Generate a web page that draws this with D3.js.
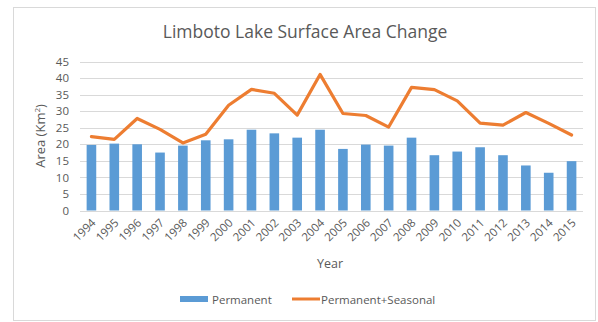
<!DOCTYPE html>
<html><head><meta charset="utf-8">
<script src="https://cdn.jsdelivr.net/npm/d3@7"></script>
<style>body{margin:0;background:#fff}svg{display:block}text{font-family:"Open Sans",sans-serif}</style>
</head><body>
<svg id="c" width="598" height="322"></svg>
<script>
const years = ["1994","1995","1996","1997","1998","1999","2000","2001","2002","2003","2004","2005","2006","2007","2008","2009","2010","2011","2012","2013","2014","2015"];
const permanent = [19.8,20.2,20.0,17.5,19.6,21.2,21.5,24.4,23.3,22.0,24.4,18.6,19.9,19.6,22.0,16.7,17.8,19.1,16.7,13.6,11.4,14.9];
const permanentSeasonal = [22.3,21.5,27.8,24.5,20.4,23.0,31.8,36.6,35.4,28.8,41.1,29.3,28.7,25.2,37.2,36.5,33.1,26.4,25.8,29.6,26.3,22.8];
const yTicks = [0,5,10,15,20,25,30,35,40,45];

const svg = d3.select("#c");
svg.append("rect").attr("x",13.5).attr("y",7.5).attr("width",582).attr("height",313)
  .attr("fill","#fff").attr("stroke","#d9d9d9");

const L=80, R=583, T=61.5, B=210.5;
const x = d3.scaleBand().domain(years).range([L,R]).paddingInner(0.58).paddingOuter(0.29);
const y = d3.scaleLinear().domain([0,45]).range([B,T]);

// gridlines
svg.append("g").selectAll("line").data(yTicks).join("line")
  .attr("x1",L).attr("x2",R).attr("y1",d=>Math.round(y(d))+0.5).attr("y2",d=>Math.round(y(d))+0.5)
  .attr("stroke","#d9d9d9").attr("stroke-width",1);

// y axis labels
const ya = svg.append("g").attr("transform",`translate(${L-11},0)`)
  .call(d3.axisLeft(y).tickValues(yTicks).tickSize(0).tickPadding(0));
ya.select(".domain").remove();
ya.selectAll("text").attr("font-size",11.5).attr("fill","#595959").attr("font-family","'Open Sans',sans-serif");

// bars
svg.append("g").selectAll("rect").data(years).join("rect")
  .attr("x",d=>x(d)).attr("width",x.bandwidth())
  .attr("y",(d,i)=>y(permanent[i])).attr("height",(d,i)=>B-y(permanent[i]))
  .attr("fill","#5b9bd5");

// line
const line = d3.line().x((d,i)=>x(years[i])+x.bandwidth()/2).y(d=>y(d));
svg.append("path").datum(permanentSeasonal).attr("d",line)
  .attr("fill","none").attr("stroke","#ed7d31").attr("stroke-width",3.2)
  .attr("stroke-linejoin","round").attr("stroke-linecap","round");

// x axis labels
const xa = svg.append("g").attr("transform",`translate(0,${B})`)
  .call(d3.axisBottom(x).tickSize(0).tickPadding(0));
xa.select(".domain").remove();
xa.selectAll("text").attr("font-size",11.5).attr("fill","#595959").attr("font-family","'Open Sans',sans-serif")
  .attr("text-anchor","end").attr("dy",0).attr("y",0)
  .attr("transform","translate(5,13) rotate(-45)");

// title
svg.append("text").attr("x",305).attr("y",38).attr("text-anchor","middle")
  .attr("font-size",17.5).attr("fill","#595959").text("Limboto Lake Surface Area Change");

// axis titles
const yt = svg.append("text").attr("transform",`translate(45,136) rotate(-90)`).attr("text-anchor","middle")
  .attr("font-size",13).attr("fill","#595959");
yt.append("tspan").text("Area (Km");
yt.append("tspan").attr("font-size",8).attr("dy",-5).text("2");
yt.append("tspan").attr("dy",5).text(")");

svg.append("text").attr("x",330).attr("y",268).attr("text-anchor","middle")
  .attr("font-size",12.5).attr("fill","#595959").text("Year");

// legend
const lg = svg.append("g");
lg.append("rect").attr("x",180).attr("y",296).attr("width",28).attr("height",6).attr("fill","#5b9bd5");
lg.append("text").attr("x",212).attr("y",303.5).attr("font-size",11.5).attr("fill","#595959").text("Permanent");
lg.append("line").attr("x1",292).attr("x2",320).attr("y1",299).attr("y2",299).attr("stroke","#ed7d31").attr("stroke-width",3);
lg.append("text").attr("x",321).attr("y",303.5).attr("font-size",11.5).attr("fill","#595959").text("Permanent+Seasonal");
</script>
</body></html>
